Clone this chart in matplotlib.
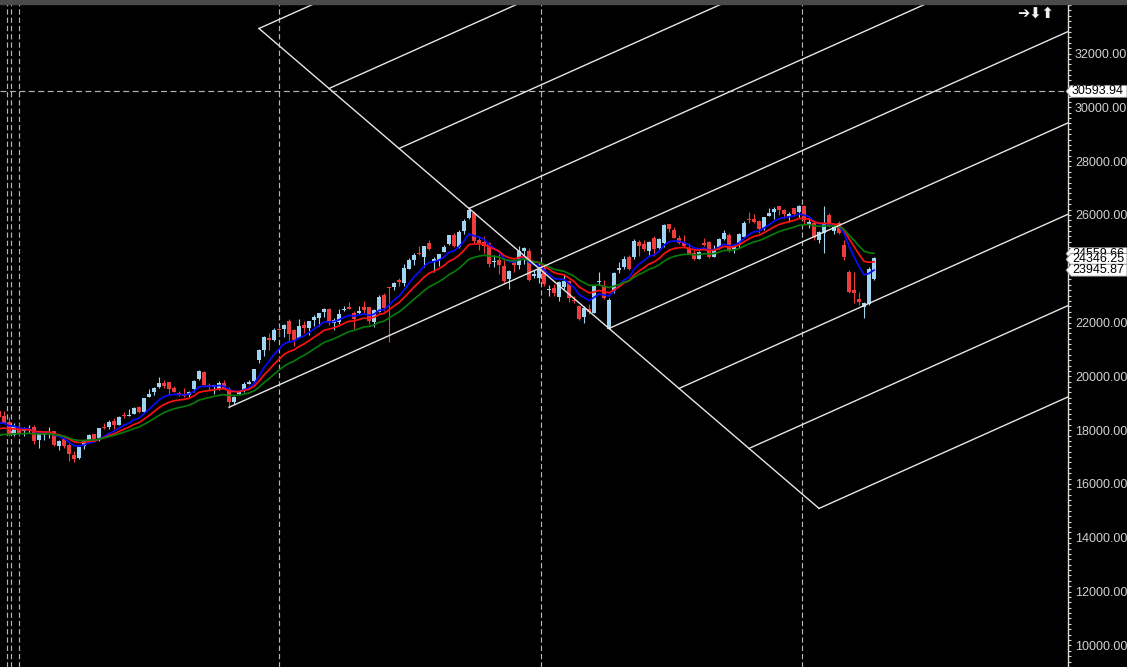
import numpy as np
import pandas as pd
import matplotlib
matplotlib.use('Agg')
import matplotlib.pyplot as plt
from matplotlib.ticker import MultipleLocator, FormatStrFormatter
from matplotlib.patches import Polygon, Rectangle
from matplotlib.transforms import IdentityTransform

# ---------------- data (weekly candles) ----------------
first_week = '2022-12-05'
opens = [18719, 18524, 18288, 17831, 18131, 17953, 17999, 18118, 17649, 17818,
         17859, 17965, 17428, 17680, 17443, 17066, 16977, 17427, 17634, 17863,
         17707, 18124, 18120, 18339, 18201, 18550, 18536, 18596, 18873, 18682,
         19246, 19400, 19612, 19748, 19784, 19576, 19383, 19320, 19298, 19525,
         19890, 20156, 19678, 19622, 19539, 19737, 19521, 19053, 19345, 19487,
         19731, 19844, 20601, 20965, 21434, 21365, 21727, 21747, 22054, 21716,
         21433, 21921, 21800, 22103, 22169, 22403, 22517, 21997, 22006, 22456,
         22578, 22339, 22336, 22568, 22561, 22027, 22404, 23039, 23338, 23319,
         23574, 23471, 23986, 24329, 24577, 24445, 24943, 24303, 24320, 24636,
         24907, 25250, 24823, 25406, 25872, 26061, 25085, 25000, 24956, 24251,
         24315, 24087, 23605, 24254, 24140, 24672, 24660, 23738, 23638, 24045,
         23195, 23291, 22940, 23319, 23543, 22810, 22609, 22194, 22521, 22354,
         23515, 23342, 21758, 23185, 23949, 24070, 24420, 24420, 25005, 24919,
         24669, 25160, 24788, 24939, 25661, 25450, 25149, 25000, 24782, 24597,
         24372, 24938, 25012, 24432, 24802, 25118, 25239, 24729, 24917, 25178,
         25824, 25843, 25764, 25503, 25965, 26100, 26325, 26200, 25930, 26240,
         26120, 26330, 25663, 25687, 25068, 25316, 25997, 25414, 25712, 24880,
         23890, 23210, 22860, 22560, 22700, 23600]
highs = [18781, 18728, 18473, 18265, 18252, 18127, 18201, 18183, 17972, 17916,
         18134, 17972, 17645, 17800, 17529, 17207, 17381, 17638, 17842, 17863,
         18089, 18267, 18389, 18458, 18508, 18662, 18777, 18864, 18887, 19201,
         19523, 19595, 19991, 19867, 19795, 19645, 19465, 19584, 19458, 19867,
         20222, 20196, 19766, 19674, 19843, 19849, 19593, 19276, 19463, 19806,
         19876, 20291, 21007, 21493, 21593, 21801, 21834, 21928, 22124, 21750,
         22126, 22053, 22068, 22297, 22353, 22526, 22527, 22180, 22516, 22619,
         22775, 22427, 22625, 22795, 22588, 22502, 23026, 23110, 23338, 23490,
         23667, 24174, 24401, 24592, 24855, 24861, 25078, 24419, 24563, 24867,
         25268, 25334, 25434, 25849, 26277, 26134, 25234, 25212, 24978, 24498,
         24538, 24336, 23957, 24354, 24857, 24792, 24781, 23938, 24226, 24089,
         23391, 23426, 23546, 23807, 23568, 22993, 22668, 22633, 22677, 23403,
         23870, 23565, 22923, 23873, 24242, 24457, 24526, 25116, 25062, 25079,
         25030, 25222, 25137, 25668, 25669, 25548, 25255, 25242, 24956, 24734,
         24674, 25154, 25021, 24868, 25139, 25448, 25331, 24912, 25331, 25781,
         26104, 26033, 25803, 25940, 26247, 26310, 26326, 26230, 26100, 26270,
         26370, 26370, 25900, 25750, 25420, 26341, 26060, 25600, 25780, 25070,
         23950, 23890, 23150, 22780, 24060, 24430]
lows = [18410, 18255, 17779, 17775, 17795, 17774, 17887, 17494, 17353, 17652,
        17719, 17422, 17255, 17324, 16850, 16828, 16940, 17312, 17598, 17553,
        17612, 18042, 18053, 18060, 18178, 18464, 18516, 18595, 18647, 18646,
        19235, 19300, 19563, 19563, 19296, 19412, 19257, 19230, 19223, 19432,
        19866, 19657, 19493, 19333, 19480, 19518, 18837, 18974, 19329, 19414,
        19704, 19768, 20507, 20770, 20976, 21329, 21500, 21448, 21285, 21137,
        21429, 21629, 21530, 21875, 21860, 22224, 21905, 21710, 21947, 22428,
        22503, 21777, 22305, 22348, 21932, 21821, 22404, 22417, 21281, 23206,
        23350, 23350, 23992, 24141, 24508, 24074, 24686, 23893, 24099, 24607,
        24874, 24801, 24754, 25285, 25848, 24967, 24694, 24568, 24074, 24073,
        23816, 23484, 23263, 23873, 24008, 24180, 23537, 23647, 23460, 23344,
        22976, 22982, 22786, 23223, 22775, 22720, 22105, 21965, 22315, 22353,
        23412, 22858, 21743, 23100, 23847, 23992, 23936, 24378, 24462, 24670,
        24500, 24473, 24736, 24825, 25378, 25129, 24918, 24806, 24535, 24337,
        24347, 24838, 24404, 24421, 24751, 25081, 24630, 24588, 24776, 25152,
        25718, 25711, 25318, 25448, 25964, 25842, 25986, 25900, 25730, 26000,
        25900, 25620, 25500, 25050, 24950, 24570, 25560, 25300, 25300, 24330,
        23100, 22710, 22650, 22160, 22650, 23580]
closes = [18497, 18270, 17807, 18105, 17860, 17957, 18027, 17604, 17854, 17856,
          17944, 17466, 17594, 17413, 17100, 16945, 17360, 17599, 17828, 17624,
          18065, 18069, 18315, 18203, 18499, 18534, 18563, 18826, 18665, 19189,
          19332, 19565, 19745, 19646, 19517, 19428, 19310, 19266, 19435, 19820,
          20192, 19674, 19638, 19653, 19751, 19542, 19047, 19230, 19425, 19732,
          19795, 20268, 20970, 21457, 21349, 21731, 21711, 21894, 21572, 21352,
          21854, 21783, 22041, 22213, 22339, 22494, 22023, 22097, 22327, 22514,
          22519, 22147, 22420, 22476, 22055, 22466, 22957, 22531, 23290, 23466,
          23501, 24011, 24324, 24502, 24531, 24835, 24718, 24367, 24541, 24823,
          25236, 24852, 25356, 25791, 26179, 25014, 24964, 24854, 24181, 24304,
          24148, 23533, 23907, 24131, 24677, 24768, 23588, 23813, 24005, 23432,
          23203, 23092, 23508, 23560, 22929, 22796, 22125, 22553, 22397, 23350,
          23519, 22904, 22829, 23852, 24039, 24347, 24008, 25019, 24853, 24751,
          25003, 24718, 25112, 25637, 25461, 25149, 24968, 24837, 24565, 24363,
          24631, 24870, 24427, 24741, 25114, 25327, 24655, 24894, 25285, 25710,
          25795, 25722, 25492, 25910, 26068, 26203, 26186, 26046, 26050, 26050,
          26330, 25810, 25749, 25130, 25377, 25700, 25625, 25538, 25340, 24450,
          23150, 23085, 22775, 22713, 24000, 24386]

# moving averages (EMA spans, starting values read at left edge)
ema_spans = [8, 13, 21]
ema_seed = [18260, 18050, 17800]
ma_colors = ['#0a0aff', '#ff1010', '#087a08']
ma_tags = [24559.66, 24346.25, 23945.87]   # drawn green, red, blue order

# pitchfork pivots (candle index, price)
pivot_idx = [46, 94, 122]
pivot_val = [18850, 26240, 21780]
fork_levels = list(range(-3, 6))

# separators
year_marks = ['2023-01-01', '2024-01-01', '2025-01-01', '2026-01-01']
extra_marks = [1.66, 2.46]
crosshair_price = 30593.94

# ---------------- figure ----------------
W, H = 1127, 667
fig = plt.figure(figsize=(W / 100, H / 100), dpi=100, facecolor='black')
ax_right_px = 1068
top_px = 4
ax = fig.add_axes([0, 0, ax_right_px / W, (H - top_px) / H])
ax.set_facecolor('black')

n = len(closes)
x = np.arange(n)
o = np.array(opens, float); h = np.array(highs, float)
l = np.array(lows, float); c = np.array(closes, float)
up = c >= o
col_up, col_dn = '#9fd3f2', '#ee3b3b'
colors = np.where(up, col_up, col_dn)

ax.vlines(x, l, h, colors=colors, lw=0.8, zorder=3)
body_lo = np.minimum(o, c)
body_h = np.maximum(np.abs(c - o), 45)
ax.bar(x, body_h, bottom=body_lo, width=0.62, color=colors, linewidth=0, zorder=4)

# EMAs
for span, seed, colr in zip(ema_spans, ema_seed, ma_colors):
    a = 2.0 / (span + 1)
    e = np.empty(n)
    e[0] = seed
    for t in range(1, n):
        e[t] = e[t - 1] + a * (c[t] - e[t - 1])
    ax.plot(x, e, color=colr, lw=1.25, zorder=5)

xmin, xmax = 0.2, (ax_right_px + 1) / 5.0
ymin, ymax = 9196, 33840
ax.set_xlim(xmin, xmax)
ax.set_ylim(ymin, ymax)

# Pitchfork
Ai, Av = pivot_idx[0], pivot_val[0]
Bi, Bv = pivot_idx[1], pivot_val[1]
Ci, Cv = pivot_idx[2], pivot_val[2]
si, sv = (Ci - Bi) / 2.0, (Cv - Bv) / 2.0
mi, mv = Bi + si, Bv + sv
slope = (mv - Av) / (mi - Ai)
lc = '#e6e6e6'
for k in fork_levels:
    pi, pv = Bi + k * si, Bv + k * sv
    if k == 1:
        pi, pv = Ai, Av
    xe = xmax + 2
    ax.plot([pi, xe], [pv, pv + slope * (xe - pi)], color=lc, lw=1.0, zorder=6)
k0, k1 = fork_levels[0], fork_levels[-1]
ax.plot([Bi + k0 * si, Bi + k1 * si], [Bv + k0 * sv, Bv + k1 * sv], color=lc, lw=1.0, zorder=6)

# separators
dash_col = '#b4b4b4'
dash = (0, (4.5, 2.5))
base = pd.Timestamp(first_week)
for d in year_marks:
    ts = pd.Timestamp(d)
    wd = ts.weekday()
    if wd >= 5:
        ts = ts + pd.Timedelta(days=7 - wd)
        wd = 0
    wk = ((ts - base).days - wd) // 7
    ax.axvline(wk + wd / 5.0, color=dash_col, lw=0.85, ls=dash, zorder=2)
for xm in extra_marks:
    ax.axvline(xm, color=dash_col, lw=0.85, ls=dash, zorder=2)
ax.axhline(crosshair_price, color=dash_col, lw=0.85, ls=(0, (5, 3)), zorder=2)

# axes styling
for s in ['left', 'top', 'bottom']:
    ax.spines[s].set_visible(False)
ax.spines['right'].set_color('#dcdcd4')
ax.spines['right'].set_linewidth(1.0)
ax.set_xticks([])
ax.yaxis.tick_right()
ax.yaxis.set_major_locator(MultipleLocator(2000))
ax.yaxis.set_minor_locator(MultipleLocator(200))
ax.yaxis.set_major_formatter(FormatStrFormatter('%.2f'))
ax.tick_params(axis='y', which='both', colors='#dcdcd4', length=2.5, width=0.8,
               labelcolor='#d2d2d2', labelsize=9, pad=2.5)
for t in ax.get_yticklabels():
    t.set_fontfamily('Liberation Sans')

# top strip
fig.add_artist(Rectangle((0, (H - top_px) / H), 1, top_px / H, transform=fig.transFigure,
                         color='#4a4a4a', zorder=10))

# arrows
fig.text(1017 / W, 1 - 13 / H, '➔⬇⬆', color='#f0f0f0', fontsize=10.5, fontweight='bold',
         va='center', ha='left', family='DejaVu Sans')

# price tags
def tag(val, z):
    yd = ax.transData.transform((0, val))[1]
    x0 = ax_right_px - 2
    hh = 6
    poly = Polygon([(x0, yd), (x0 + 5, yd + hh), (W, yd + hh), (W, yd - hh), (x0 + 5, yd - hh)],
                   closed=True, transform=IdentityTransform(), facecolor='white',
                   edgecolor='#888888', lw=0.6, zorder=z)
    fig.add_artist(poly)
    fig.text((x0 + 6) / W, yd / H, f'{val:.2f}', color='black', fontsize=9,
             family='Liberation Sans', va='center', ha='left', zorder=z + 0.5)

tag(crosshair_price, 20)
for i, v in enumerate(ma_tags):
    tag(v, 21 + i)

fig.savefig('out.png', dpi=100, facecolor='black')
